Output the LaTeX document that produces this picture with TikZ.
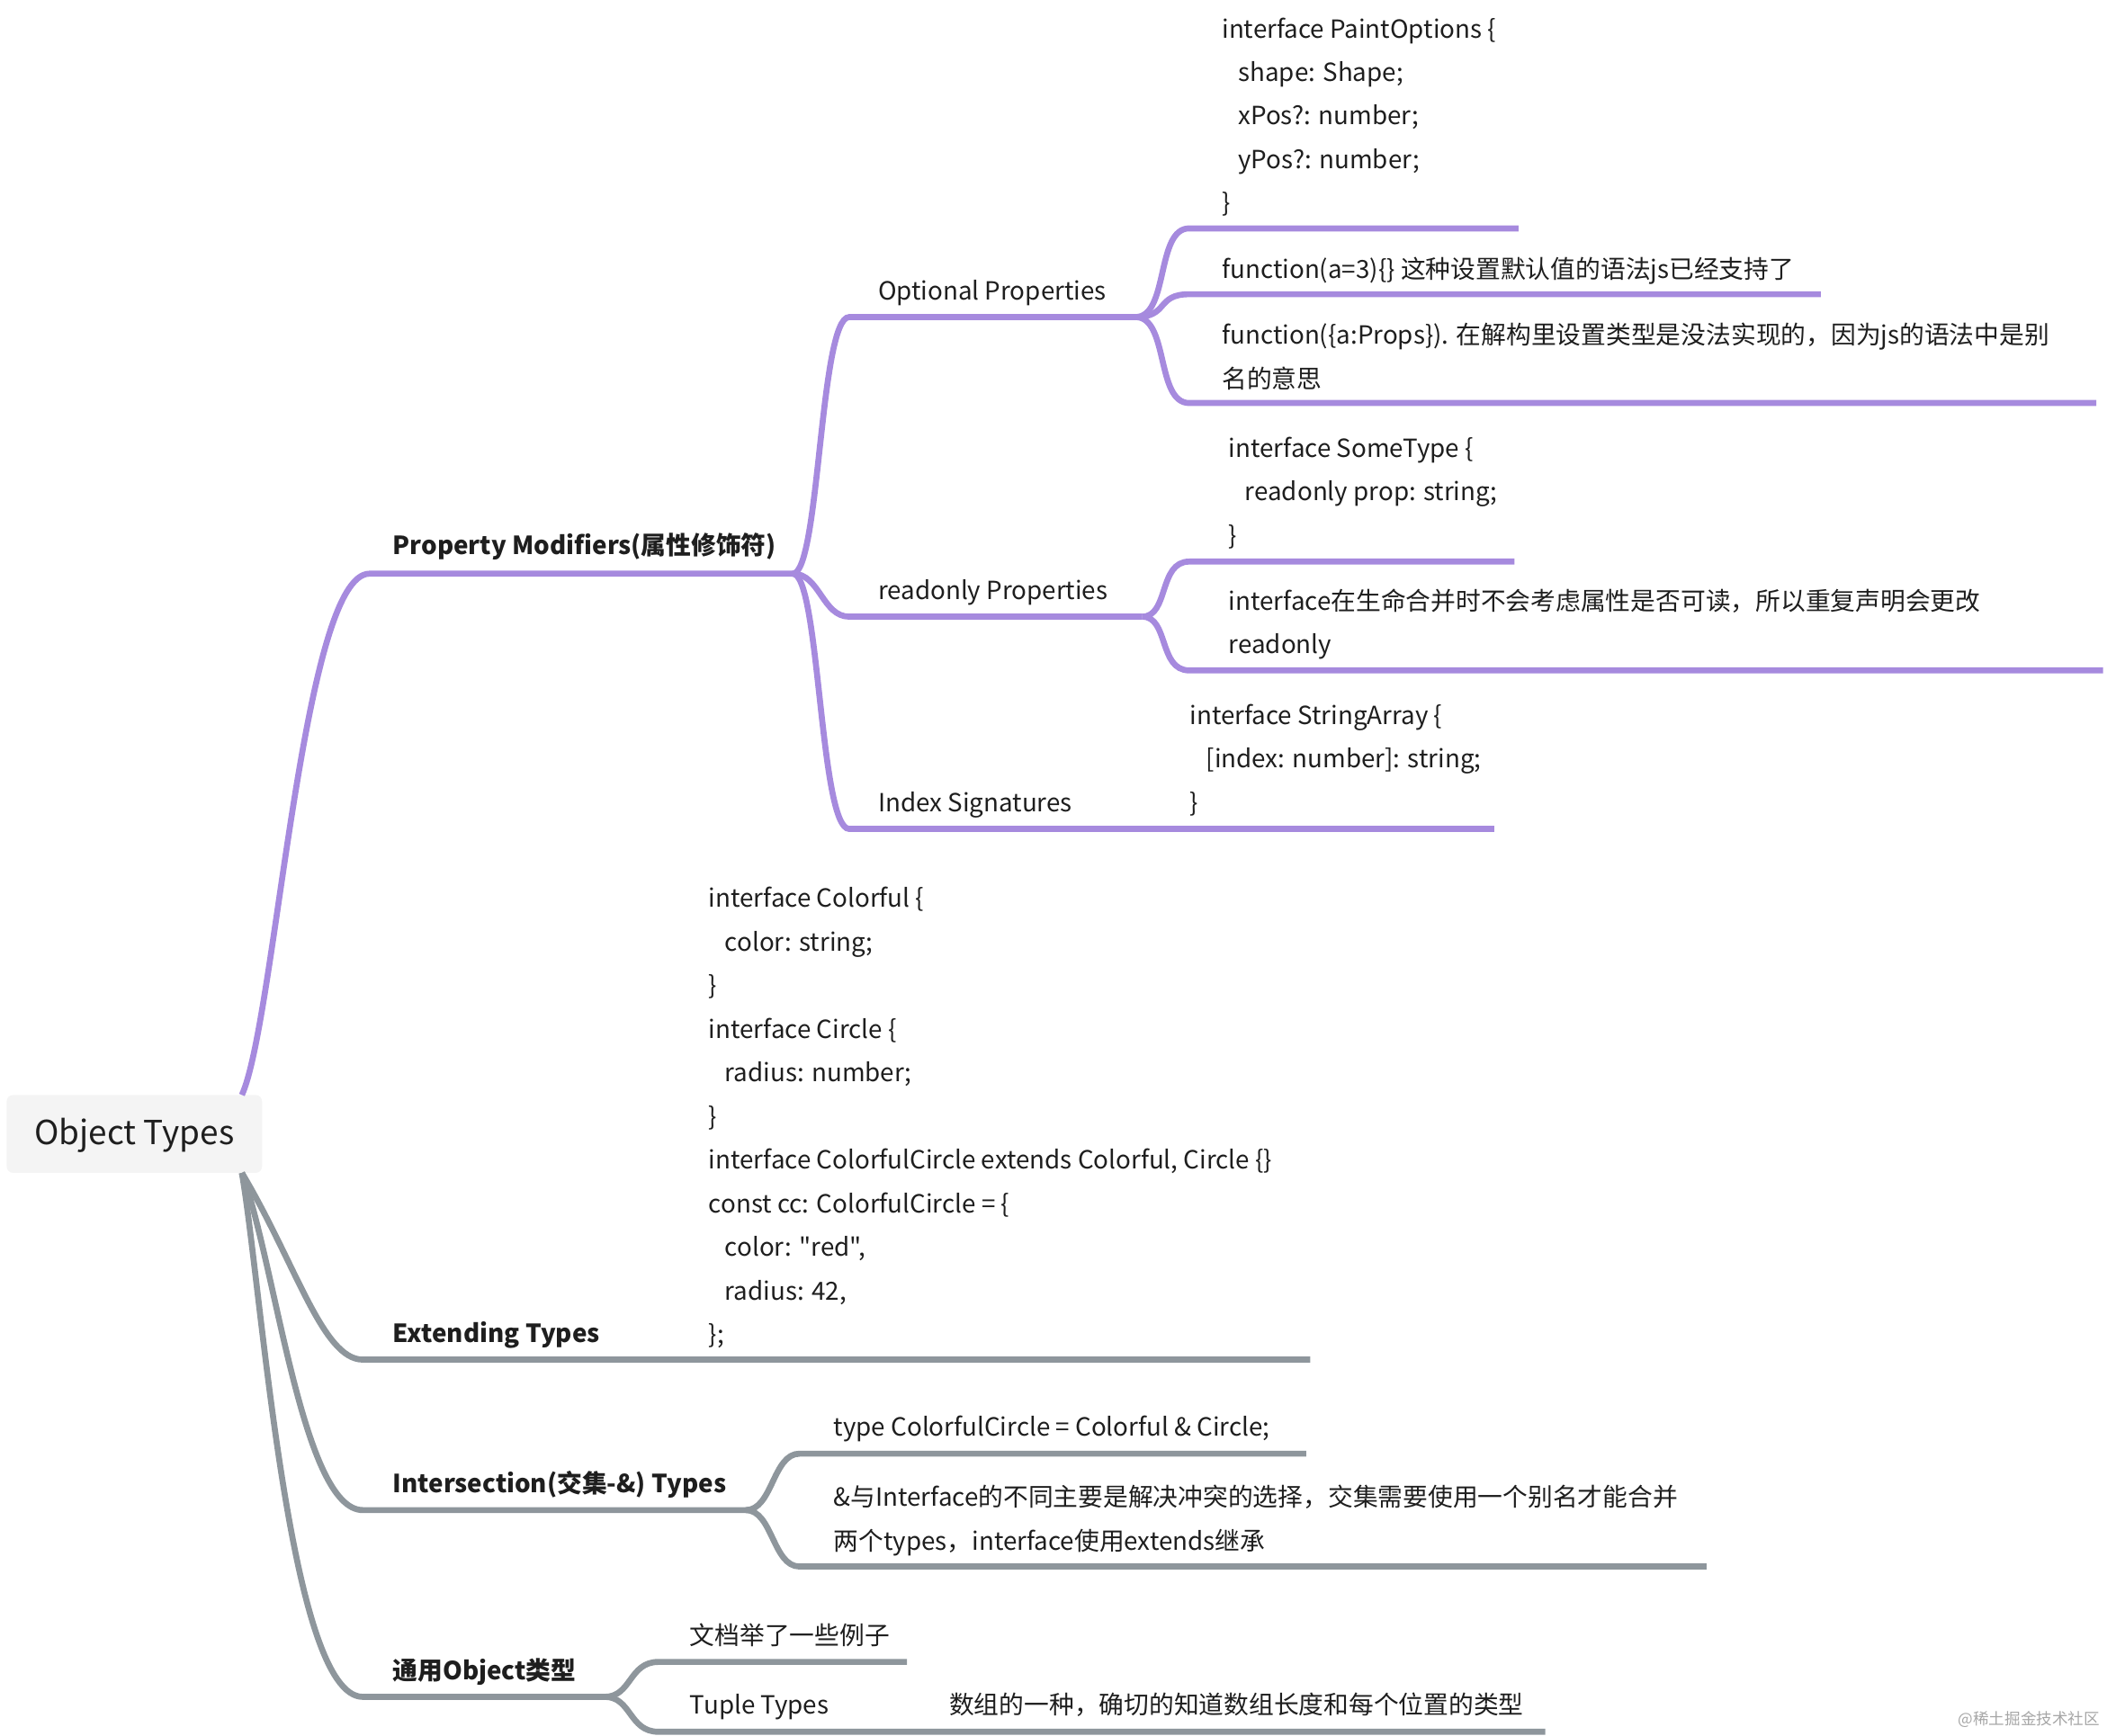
\documentclass[tikz,border=0pt]{standalone}
\usepackage{fontspec}
\setmainfont{Noto Sans CJK SC}[Ligatures=TeXOff]
\begin{document}
\begin{tikzpicture}[x=0.014936cm,y=-0.014936cm,
  pu/.style={draw=purp,line width=1.9pt},
  gr/.style={draw=grey,line width=1.9pt},
  t/.style={anchor=base west,inner sep=0pt,font=\fontsize{7.9pt}{13.8pt}\selectfont,text=txt,align=left},
  h/.style={t,font=\fontsize{7.9pt}{13.8pt}\selectfont\bfseries}]
\definecolor{purp}{RGB}{166,138,222}
\definecolor{grey}{RGB}{142,150,156}
\definecolor{txt}{RGB}{30,30,30}
\useasboundingbox (0,0) rectangle (1568,1292);
\def\ind{\hspace*{0.65em}}
% root
\fill[fill={rgb,255:red,244;green,244;blue,244},rounded corners=2pt] (5,815) rectangle (195,873);
\node[anchor=center,font=\fontsize{10.5pt}{12pt}\selectfont,text=txt] (root) at (100,845) {Object Types};
\coordinate (rt) at (180,815);
\coordinate (rb) at (180,873);
% Property Modifiers
\coordinate (pm0) at (275,427); \coordinate (pm1) at (590,427);
\draw[pu] (rt) .. controls (205,760) and (225,427) .. (pm0) -- (pm1);
\node[h] at (292,413) {Property Modifiers(属性修饰符)};
% Optional
\coordinate (op0) at (632,236); \coordinate (op1) at (845,236);
\draw[pu] (pm1) .. controls (610,427) and (610,236) .. (op0) -- (op1);
\node[t] at (653,223) {Optional Properties};
\coordinate (a0) at (885,170); \coordinate (a1) at (1130,170);
\coordinate (b0) at (885,219); \coordinate (b1) at (1355,219);
\coordinate (c0) at (885,300); \coordinate (c1) at (1560,300);
\draw[pu] (op1) .. controls (870,236) and (860,170) .. (a0) -- (a1);
\draw[pu] (op1) .. controls (870,236) and (860,219) .. (b0) -- (b1);
\draw[pu] (op1) .. controls (870,236) and (860,300) .. (c0) -- (c1);
\node[t] at (909,158) {interface PaintOptions \{\\\ind shape: Shape;\\\ind xPos?: number;\\\ind yPos?: number;\\\}};
\node[t] at (909,207) {function(a=3)\{\} 这种设置默认值的语法js已经支持了};
\node[t] at (909,288.6) {function(\{a:Props\}). 在解构里设置类型是没法实现的，因为js的语法中是别\\名的意思};
% readonly
\coordinate (ro0) at (632,459); \coordinate (ro1) at (850,459);
\draw[pu] (pm1) .. controls (610,427) and (612,459) .. (ro0) -- (ro1);
\node[t] at (653,446) {readonly Properties};
\coordinate (d0) at (885,418); \coordinate (d1) at (1127,418);
\coordinate (e0) at (885,499); \coordinate (e1) at (1565,499);
\draw[pu] (ro1) .. controls (870,459) and (862,418) .. (d0) -- (d1);
\draw[pu] (ro1) .. controls (870,459) and (862,499) .. (e0) -- (e1);
\node[t] at (914,405.2) {interface SomeType \{\\\ind readonly prop: string;\\\}};
\node[t] at (914,486.6) {interface在生命合并时不会考虑属性是否可读，所以重复声明会更改\\readonly};
% Index
\coordinate (ix0) at (632,617); \coordinate (ix1) at (1112,617);
\draw[pu] (pm1) .. controls (610,427) and (610,617) .. (ix0) -- (ix1);
\node[t] at (653,604) {Index Signatures};
\node[t] at (885,604.2) {interface StringArray \{\\\ind [index: number]: string;\\\}};
% Extending
\coordinate (ex0) at (270,1012); \coordinate (ex1) at (975,1012);
\draw[gr] (rb) .. controls (220,940) and (240,1012) .. (ex0) -- (ex1);
\node[h] at (292,999) {Extending Types};
\node[t] at (527,1000) {interface Colorful \{\\\ind color: string;\\\}\\interface Circle \{\\\ind radius: number;\\\}\\interface ColorfulCircle extends Colorful, Circle \{\}\\const cc: ColorfulCircle = \{\\\ind color: "red",\\\ind radius: 42,\\\};};
% Intersection
\coordinate (in0) at (270,1124); \coordinate (in1) at (555,1124);
\draw[gr] (rb) .. controls (205,940) and (225,1124) .. (in0) -- (in1);
\node[h] at (292,1111) {Intersection(交集-\&) Types};
\coordinate (f0) at (595,1082); \coordinate (f1) at (972,1082);
\coordinate (g0) at (595,1166); \coordinate (g1) at (1270,1166);
\draw[gr] (in1) .. controls (575,1124) and (575,1082) .. (f0) -- (f1);
\draw[gr] (in1) .. controls (575,1124) and (575,1166) .. (g0) -- (g1);
\node[t] at (620,1069) {type ColorfulCircle = Colorful \& Circle;};
\node[t] at (620,1153.6) {\&与Interface的不同主要是解决冲突的选择，交集需要使用一个别名才能合并\\两个types，interface使用extends继承};
% generic
\coordinate (go0) at (270,1263); \coordinate (go1) at (450,1263);
\draw[gr] (rb) .. controls (195,960) and (215,1263) .. (go0) -- (go1);
\node[h] at (292,1250) {通用Object类型};
\coordinate (k0) at (490,1237); \coordinate (k1) at (675,1237);
\coordinate (l0) at (490,1289); \coordinate (l1) at (1150,1289);
\draw[gr] (go1) .. controls (470,1263) and (468,1237) .. (k0) -- (k1);
\draw[gr] (go1) .. controls (470,1263) and (468,1289) .. (l0) -- (l1);
\node[t] at (513,1224) {文档举了一些例子};
\node[t] at (513,1276) {Tuple Types};
\node[t] at (706,1276) {数组的一种，确切的知道数组长度和每个位置的类型};
\node[anchor=base east,inner sep=0pt,font=\fontsize{5pt}{6pt}\selectfont,text=gray!70] at (1563,1284) {@稀土掘金技术社区};
\end{tikzpicture}
\end{document}
